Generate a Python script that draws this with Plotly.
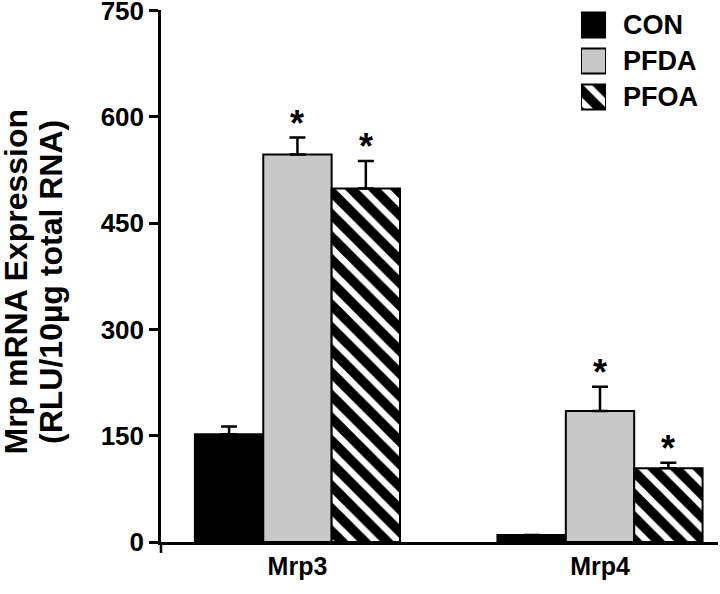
import plotly.graph_objects as go

categories = ["Mrp3", "Mrp4"]
series = ["CON", "PFDA", "PFOA"]
con_vals = [152, 10]
con_err = [11, 0]
pfda_vals = [547, 185]
pfda_err = [24, 34]
pfoa_vals = [499, 104]
pfoa_err = [39, 8]
stars = {"CON": ["", ""], "PFDA": ["*", "*"], "PFOA": ["*", "*"]}
y_ticks = [0, 150, 300, 450, 600, 750]

FONT = "Liberation Sans, Arial, sans-serif"
GRAY = "#c8c8c8"

styles = {
    "CON": dict(color="black", line=dict(color="black", width=2)),
    "PFDA": dict(color=GRAY, line=dict(color="black", width=2)),
    "PFOA": dict(color="black", line=dict(color="black", width=2),
                 pattern=dict(shape="\\", fgcolor="white", bgcolor="black",
                              size=16, solidity=0.4, fgopacity=1)),
}
data = {"CON": (con_vals, con_err), "PFDA": (pfda_vals, pfda_err), "PFOA": (pfoa_vals, pfoa_err)}

fig = go.Figure()
xpos = list(range(len(categories)))
for s in series:
    vals, err = data[s]
    fig.add_trace(go.Bar(
        x=xpos, y=vals, name=s, marker=styles[s], showlegend=False,
        error_y=dict(type="data", array=err, arrayminus=[0] * len(err), symmetric=False,
                     color="black", thickness=2.5, width=8),
    ))

bargap = 0.322
bw = (1 - bargap) / len(series)
annotations = []
for i, s in enumerate(series):
    vals, err = data[s]
    for j in range(len(categories)):
        if stars[s][j]:
            annotations.append(dict(
                x=j + (i - 1) * bw, y=vals[j] + err[j], xref="x", yref="y",
                text="<b>*</b>", showarrow=False, yanchor="middle", yshift=14,
                font=dict(family=FONT, size=36, color="black")))

# legend swatches on an auxiliary axis
leg_pos = {"CON": 2, "PFDA": 1, "PFOA": 0}
for s in series:
    fig.add_trace(go.Bar(
        x=[1], y=[leg_pos[s]], orientation="h", width=0.694, marker=styles[s],
        xaxis="x2", yaxis="y2", showlegend=False, hoverinfo="skip"))
    annotations.append(dict(
        x=0.826, y=leg_pos[s], xref="paper", yref="y2", text=s, showarrow=False,
        xanchor="left", yanchor="middle",
        font=dict(family=FONT, size=27, color="black", weight="bold")))

# y title, two lines
annotations.append(dict(x=-0.2603, y=0.4897, xref="paper", yref="paper",
                        text="Mrp mRNA Expression", textangle=-90, showarrow=False,
                        xanchor="center", yanchor="middle",
                        font=dict(family=FONT, size=32, color="black", weight="bold")))
annotations.append(dict(x=-0.1966, y=0.4897, xref="paper", yref="paper",
                        text="(RLU/10µg total RNA)", textangle=-90, showarrow=False,
                        xanchor="center", yanchor="middle",
                        font=dict(family=FONT, size=32, color="black", weight="bold")))

fig.update_layout(
    width=720, height=594,
    margin=dict(l=161, r=2, t=10, b=52, autoexpand=False),
    paper_bgcolor="white", plot_bgcolor="white",
    barmode="group", bargap=bargap, bargroupgap=0,
    annotations=annotations,
    xaxis=dict(range=[-0.451, 1.39], tickvals=xpos, ticktext=categories,
               showline=True, linecolor="black", linewidth=2.5, ticks="",
               showgrid=False, zeroline=False, automargin=False,
               ticklabeloverflow="allow",
               tickfont=dict(family=FONT, size=25, color="black", weight="bold")),
    yaxis=dict(range=[0, 751], tickvals=y_ticks, showline=True, linecolor="black",
               linewidth=2.5, ticks="outside", ticklen=9, tickwidth=2.5, tickcolor="black",
               showgrid=False, zeroline=False, automargin=False,
               ticklabeloverflow="allow",
               tickfont=dict(family=FONT, size=26, color="black", weight="bold")),
    xaxis2=dict(domain=[0.754, 0.799], range=[0, 1], visible=False, anchor="y2",
                fixedrange=True),
    yaxis2=dict(domain=[0.8026, 0.9989], range=[-0.5, 2.4], visible=False, anchor="x2",
                fixedrange=True),
    shapes=[dict(type="line", xref="paper", yref="paper", x0=0, x1=0, y0=0, y1=-0.0207,
                 line=dict(color="black", width=2.5))],
)

fig.write_html("out.html", config={"displayModeBar": False},
               post_script="document.body.style.margin='0';document.body.style.overflow='hidden';")
